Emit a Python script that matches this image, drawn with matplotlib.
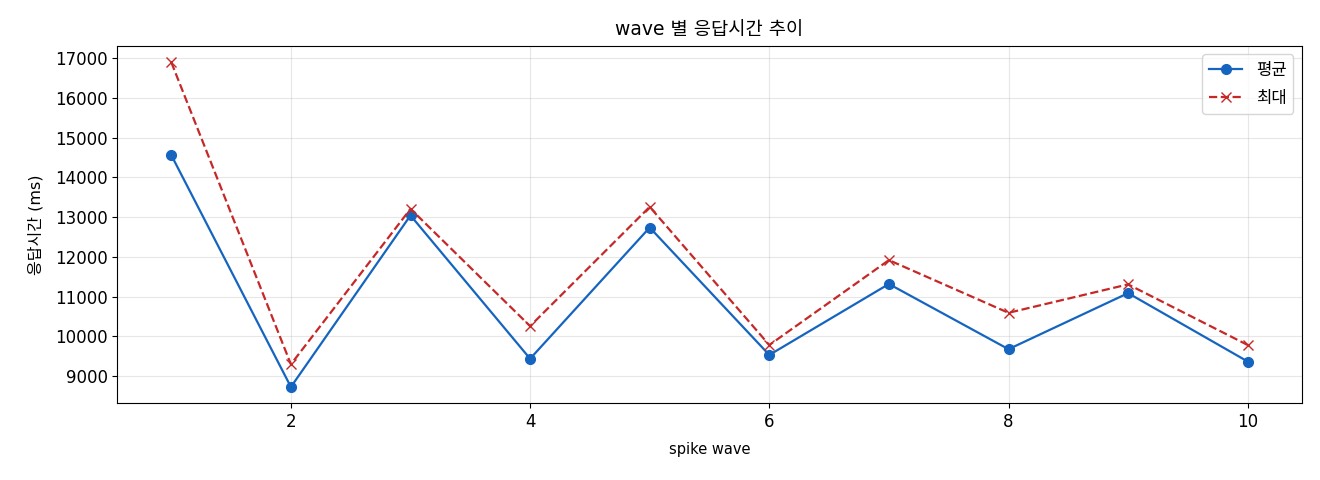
import matplotlib
matplotlib.use("Agg")
import matplotlib.pyplot as plt

plt.rcParams['font.family'] = ['DejaVu Sans', 'Noto Sans CJK KR']
plt.rcParams['axes.unicode_minus'] = False

# --- 데이터 ---
waves = [1, 2, 3, 4, 5, 6, 7, 8, 9, 10]
avg_ms = [14560, 8730, 13045, 9440, 12740, 9535, 11320, 9680, 11090, 9370]
max_ms = [16895, 9300, 13210, 10260, 13260, 9785, 11920, 10595, 11310, 9785]

fig, ax = plt.subplots(figsize=(13.2, 4.8), dpi=100)

ax.plot(waves, avg_ms, marker='o', linestyle='-', color='#1565C0',
        linewidth=1.6, markersize=7, label='평균')
ax.plot(waves, max_ms, marker='x', linestyle='--', color='#C62828',
        linewidth=1.6, markersize=7, label='최대')

ax.set_title('wave 별 응답시간 추이', fontsize=13.5, pad=8)
ax.set_xlabel('spike wave', fontsize=10.5, labelpad=8)
ax.set_ylabel('응답시간 (ms)', fontsize=11.5, labelpad=8)
ax.tick_params(labelsize=12)
ax.grid(True, alpha=0.3)
ax.legend(loc='upper right', fontsize=12, labelspacing=0.6)

fig.subplots_adjust(left=0.089, right=0.986, top=0.904, bottom=0.16)
fig.savefig('out.png', dpi=100)
